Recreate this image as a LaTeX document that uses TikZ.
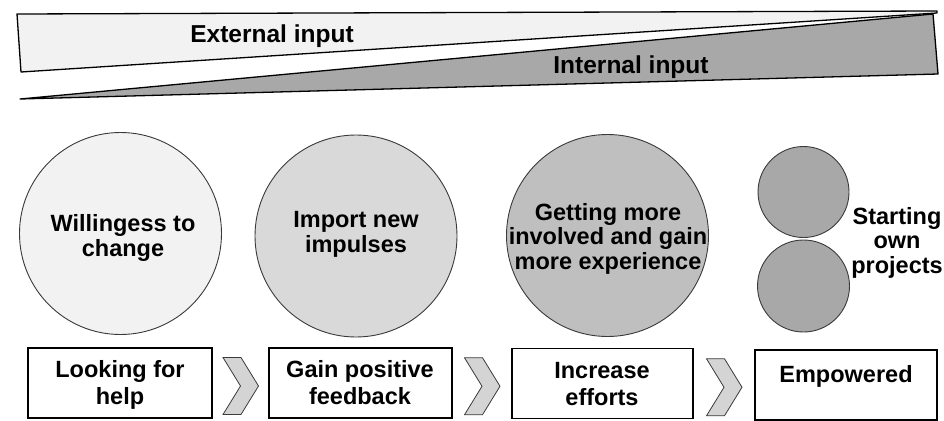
\documentclass[tikz,border=0pt]{standalone}
\usepackage{fontspec}
\setmainfont{Liberation Sans}
\usetikzlibrary{calc}

\definecolor{paleshade}{HTML}{F2F2F2}
\definecolor{lightshade}{HTML}{D9D9D9}
\definecolor{midshade}{HTML}{BFBFBF}
\definecolor{deepshade}{HTML}{A8A8A8}
\definecolor{chevshade}{HTML}{D4D4D4}
\definecolor{rimgray}{HTML}{3A3A3A}

\begin{document}
\begin{tikzpicture}[x=1pt,y=-1pt,
  wedge/.style={draw=black, line width=1.3pt, line join=round},
  bubble/.style={circle, draw=rimgray, line width=0.9pt, inner sep=0pt},
  stagebox/.style={rectangle, draw=black, line width=1.8pt, inner sep=0pt,
    minimum width=#1, minimum height=70pt},
  chev/.style={draw=rimgray, line width=0.8pt, fill=chevshade, line join=miter},
  lbl/.style={font=\bfseries\fontsize{23.5}{24.5}\selectfont, align=center,
    anchor=base, inner sep=0pt},
  boxlbl/.style={font=\bfseries\fontsize{23.5}{27}\selectfont, align=center,
    anchor=base, inner sep=0pt},
  bannerlbl/.style={font=\bfseries\fontsize{24.5}{26}\selectfont,
    anchor=base, inner sep=0pt}
]
\useasboundingbox (0,0) rectangle (944,420);

% banner: shrinking external input over growing internal input
\draw[wedge, fill=paleshade] (17,14) -- (937,11) -- (937,13) -- (21,72) -- cycle;
\draw[wedge, fill=deepshade] (20,99) -- (933,14) -- (938,74) -- cycle;
\node[bannerlbl] (ext) at (272,43) {External input};
\node[bannerlbl] (int) at (631,74) {Internal input};

% stage circles
\node[bubble, fill=paleshade, minimum size=202pt] (c1) at (120.5,233.5) {};
\node[bubble, fill=lightshade, minimum size=202pt] (c2) at (356,236) {};
\node[bubble, fill=midshade, minimum size=202pt] (c3) at (607.5,235.5) {};
\node[bubble, fill=deepshade, minimum size=91pt] (s1) at (803.5,192) {};
\node[bubble, fill=deepshade, minimum size=92pt] (s2) at (803.5,286) {};

% multi-line labels are placed by the baseline of their last line
\node[lbl] (t1) at (123,256) {Willingess to\\change};
\node[lbl] (t2) at (356,252) {Import new\\impulses};
\node[lbl] (t3) at (608,269) {Getting more\\involved and gain\\more experience};
\node[lbl] (t4) at (897,273) {Starting\\own\\projects};

% stage boxes
\node[stagebox=184pt] (b1) at (120,383) {};
\node[stagebox=183pt] (b2) at (360.5,383) {};
\node[stagebox=181pt] (b3) at (602.5,383.5) {};
\node[stagebox=182pt] (b4) at (846,385) {};

\node[boxlbl] (l1) at (120,404) {Looking for\\help};
\node[boxlbl] (l2) at (360,404) {Gain positive\\feedback};
\node[boxlbl] (l3) at (602,405) {Increase\\efforts};
\node[boxlbl] (l4) at (846,382) {Empowered};

% chevrons between neighbouring boxes
\foreach \a/\b/\n in {b1/b2/k1, b2/b3/k2, b3/b4/k3}{
  \coordinate (\n) at ($(\a.east)!0.5!(\b.west) + (0,3)$);
  \draw[chev] ([shift={(-17.5,-28.5)}]\n) -- ++(18,0) -- ++(17.5,28.5)
    -- ++(-17.5,28.5) -- ++(-18,0) -- ++(17.5,-28.5) -- cycle;
}
\end{tikzpicture}
\end{document}
